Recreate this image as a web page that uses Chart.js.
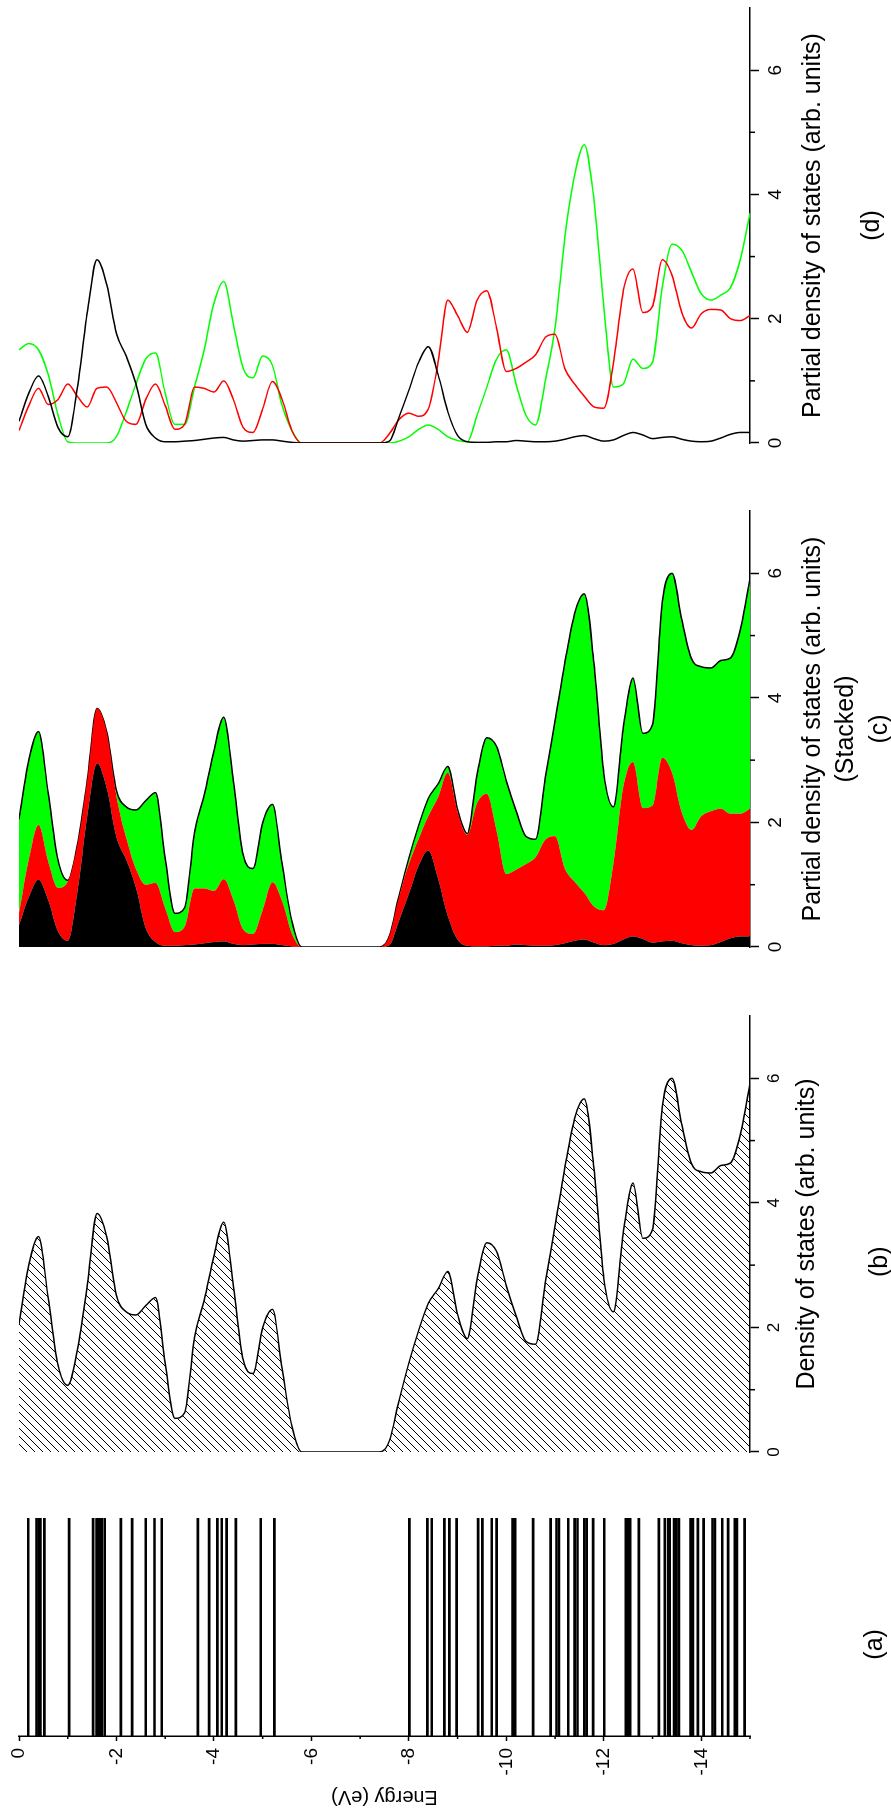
<!DOCTYPE html>
<html>
<head>
<meta charset="utf-8">
<script src="https://cdn.jsdelivr.net/npm/chart.js@4.4.1/dist/chart.umd.min.js"></script>
<style>
  html, body { margin: 0; padding: 0; background: #fff; width: 891px; height: 1811px; overflow: hidden; }
  /* the figure is laid out lying down (energy vertical) and turned a quarter turn */
  #fig { position: absolute; left: 0; top: 0; width: 1811px; height: 900px;
         transform-origin: 0 0; transform: translate(0, 1811px) rotate(-90deg); }
  #fig canvas { position: absolute; top: 0; }
</style>
</head>
<body>
<div id="fig">
  <canvas id="panelA" width="300" height="900" style="left:0px"></canvas>
  <canvas id="panelB" width="490" height="900" style="left:330px"></canvas>
  <canvas id="panelC" width="490" height="900" style="left:835px"></canvas>
  <canvas id="panelD" width="472" height="900" style="left:1339px"></canvas>
</div>
<script>
// energy levels (eV) of panel (a)
const levels = [-0.19, -0.36, -0.40, -0.44, -0.52, -1.03, -1.52, -1.59, -1.63, -1.67, -1.70, -1.76,
  -2.09, -2.32, -2.60, -2.78, -2.93, -3.67, -3.90, -4.07, -4.16, -4.26, -4.45, -4.96, -5.24,
  -8.01, -8.38, -8.47, -8.73, -8.83, -8.98, -9.42, -9.51, -9.70, -9.80, -10.13, -10.18, -10.55,
  -10.91, -11.03, -11.08, -11.27, -11.40, -11.46, -11.60, -11.65, -11.78, -12.01, -12.45, -12.48,
  -12.51, -12.54, -12.72, -13.13, -13.25, -13.32, -13.35, -13.44, -13.49, -13.54, -13.78, -13.83,
  -13.93, -14.05, -14.23, -14.28, -14.43, -14.55, -14.69, -14.73, -14.89];

// energy grid of the partial DOS curves
const energy = [0, -0.2, -0.4, -0.6, -0.8, -1, -1.2, -1.4, -1.6, -1.8, -2, -2.2, -2.4, -2.6, -2.8,
  -3, -3.2, -3.4, -3.6, -3.8, -4, -4.2, -4.4, -4.6, -4.8, -5, -5.2, -5.4, -5.6, -5.8, -6, -6.2,
  -6.4, -6.6, -6.8, -7, -7.2, -7.4, -7.6, -7.8, -8, -8.2, -8.4, -8.6, -8.8, -9, -9.2, -9.4, -9.6,
  -9.8, -10, -10.2, -10.4, -10.6, -10.8, -11, -11.2, -11.4, -11.6, -11.8, -12, -12.2, -12.4,
  -12.6, -12.8, -13, -13.2, -13.4, -13.6, -13.8, -14, -14.2, -14.4, -14.6, -14.8, -15];

const dosBlack = [0.35, 0.8, 1.08, 0.75, 0.25, 0.1, 0.9, 2.1, 2.95, 2.55,
  1.76, 1.4, 0.95, 0.3, 0.08, 0.02, 0.02, 0.03, 0.04, 0.06,
  0.08, 0.09, 0.05, 0.03, 0.04, 0.05, 0.05, 0.03, 0.01, 0,
  0, 0, 0, 0, 0, 0, 0, 0, 0.03, 0.42,
  0.85, 1.3, 1.55, 1.1, 0.5, 0.12, 0.02, 0.01, 0.01, 0.02,
  0.02, 0.04, 0.03, 0.02, 0.02, 0.03, 0.06, 0.1, 0.12, 0.07,
  0.03, 0.05, 0.12, 0.17, 0.13, 0.07, 0.09, 0.1, 0.06, 0.03,
  0.02, 0.03, 0.08, 0.14, 0.17, 0.17];

const dosRed = [0.2, 0.6, 0.88, 0.62, 0.7, 0.95, 0.75, 0.58, 0.88, 0.9,
  0.65, 0.35, 0.3, 0.7, 0.95, 0.6, 0.22, 0.3, 0.9, 0.88,
  0.82, 1.0, 0.7, 0.25, 0.17, 0.55, 0.99, 0.7, 0.2, 0,
  0, 0, 0, 0, 0, 0, 0, 0, 0.15, 0.38,
  0.48, 0.43, 0.55, 1.3, 2.3, 2.05, 1.78, 2.3, 2.45, 1.85,
  1.15, 1.2, 1.3, 1.42, 1.7, 1.75, 1.2, 0.95, 0.75, 0.58,
  0.56, 1.3, 2.45, 2.8, 2.1, 2.2, 2.95, 2.7, 2.1, 1.85,
  2.08, 2.15, 2.14, 2.0, 1.97, 2.05];

const dosGreen = [1.5, 1.6, 1.5, 1.1, 0.45, 0.02, 0, 0, 0, 0,
  0.1, 0.5, 0.95, 1.35, 1.45, 0.8, 0.3, 0.3, 0.9, 1.5,
  2.25, 2.6, 1.9, 1.2, 1.05, 1.4, 1.25, 0.6, 0.2, 0,
  0, 0, 0, 0, 0, 0, 0, 0, 0, 0.03,
  0.1, 0.22, 0.29, 0.22, 0.1, 0.04, 0.02, 0.45, 0.9, 1.35,
  1.5, 0.95, 0.45, 0.29, 1.0, 1.85, 3.3, 4.3, 4.8, 3.9,
  2.2, 0.9, 0.95, 1.35, 1.2, 1.3, 2.5, 3.2, 3.1, 2.75,
  2.4, 2.3, 2.38, 2.5, 2.95, 3.7];

const densityMinor = [1, 3, 5];
const energyMinor = [-1, -3, -5, -7, -9, -11, -13, -15];

Chart.defaults.font.family = '"Liberation Sans", Arial, sans-serif';
Chart.defaults.color = '#000';
Chart.defaults.animation = false;

const NB = '\u00a0';

// short ticks between the labelled ones
const minorTicks = {
  id: 'minorTicks',
  afterDraw(chart, args, opts) {
    const ctx = chart.ctx;
    (opts.list || []).forEach(m => {
      const s = chart.scales[m.axis];
      ctx.save();
      ctx.strokeStyle = '#000';
      ctx.lineWidth = 1.5;
      m.values.forEach(v => {
        const p = s.getPixelForValue(v);
        ctx.beginPath();
        if (s.isHorizontal()) { ctx.moveTo(p, s.top); ctx.lineTo(p, s.top + m.len); }
        else { ctx.moveTo(s.right, p); ctx.lineTo(s.right - m.len, p); }
        ctx.stroke();
      });
      ctx.restore();
    });
  }
};

function hatch() {
  const c = document.createElement('canvas');
  const p = 8;
  c.width = p; c.height = p;
  const g = c.getContext('2d');
  g.strokeStyle = '#000';
  g.lineWidth = 1;
  g.beginPath();
  g.moveTo(0, p); g.lineTo(p, 0);
  g.moveTo(-1, 1); g.lineTo(1, -1);
  g.moveTo(p - 1, p + 1); g.lineTo(p + 1, p - 1);
  g.stroke();
  return g.createPattern(c, 'repeat');
}

const pts = arr => energy.map((e, i) => ({ x: arr[i], y: e }));

const energyHidden = { type: 'linear', min: -15, max: 0, display: false };

function densityAxis(title, lineHeight, padBottom, tickSize, stacked) {
  return {
    type: 'linear', min: 0, max: 7, stacked: stacked,
    afterFit: s => { s.height = 150; },
    border: { display: true, color: '#000', width: 1.5 },
    grid: { drawOnChartArea: false, drawTicks: true, tickLength: 9, tickColor: '#000', tickWidth: 1.5 },
    ticks: { stepSize: 2, includeBounds: false, padding: 5, maxRotation: 0, font: { size: tickSize } },
    title: { display: true, text: title, font: { size: 25, lineHeight: lineHeight }, padding: { top: 0, bottom: padBottom } }
  };
}

const lineStyle = { pointRadius: 0, cubicInterpolationMode: 'monotone', indexAxis: 'y' };

// (a) energy levels
new Chart(document.getElementById('panelA'), {
  type: 'bar',
  data: {
    datasets: [{
      data: levels.map(e => ({ y: e, x: [0, 1] })),
      backgroundColor: '#000',
      borderWidth: 0,
      barThickness: 2
    }]
  },
  options: {
    responsive: false,
    indexAxis: 'y',
    layout: { padding: { top: 19, right: 7, left: 0, bottom: 0 } },
    plugins: { legend: { display: false }, tooltip: { enabled: false },
      minorTicks: { list: [{ axis: 'y', values: energyMinor, len: 3 }] } },
    scales: {
      x: {
        type: 'linear', min: 0, max: 1,
        afterFit: s => { s.height = 150; },
        border: { display: false }, grid: { display: false }, ticks: { display: false },
        title: { display: true, text: '(a)' + NB.repeat(5), font: { size: 25 }, padding: { top: 0, bottom: 10 } }
      },
      y: {
        type: 'linear', min: -15, max: 0, offset: false,
        afterFit: s => { s.width = 75; },
        border: { display: true, color: '#000', width: 1.5 },
        grid: { offset: false, drawOnChartArea: false, drawTicks: true, tickLength: 5, tickColor: '#000', tickWidth: 1.5 },
        ticks: { stepSize: 2, includeBounds: false, padding: 7, font: { size: 19 } },
        title: { display: true, text: 'Energy (eV)', font: { size: 20 }, padding: { top: 2, bottom: 0 } }
      }
    }
  },
  plugins: [minorTicks]
});

// (b) total density of states, hatched
new Chart(document.getElementById('panelB'), {
  type: 'line',
  data: {
    datasets: [
      { ...lineStyle, data: pts(dosBlack), borderColor: 'rgba(0,0,0,0)', fill: false },
      { ...lineStyle, data: pts(dosRed), borderColor: 'rgba(0,0,0,0)', fill: false },
      { ...lineStyle, data: pts(dosGreen), borderColor: '#000', borderWidth: 1.5, fill: 'origin', backgroundColor: hatch() }
    ]
  },
  options: {
    responsive: false,
    indexAxis: 'y',
    layout: { padding: { top: 19, left: 29, right: 25, bottom: 0 } },
    plugins: { legend: { display: false }, tooltip: { enabled: false },
      minorTicks: { list: [{ axis: 'x', values: densityMinor, len: 5 }] } },
    scales: {
      x: densityAxis(['Density of states (arb. units)', '', '(b)' + NB.repeat(8)], 1.46, 1.75, 17, true),
      y: energyHidden
    }
  },
  plugins: [minorTicks]
});

// (c) stacked partial DOS
new Chart(document.getElementById('panelC'), {
  type: 'line',
  data: {
    datasets: [
      { ...lineStyle, data: pts(dosBlack), borderColor: 'rgba(0,0,0,0)', fill: 'origin', backgroundColor: '#000000' },
      { ...lineStyle, data: pts(dosRed), borderColor: 'rgba(0,0,0,0)', fill: '-1', backgroundColor: '#ff0000' },
      { ...lineStyle, data: pts(dosGreen), borderColor: '#000', borderWidth: 1.5, fill: '-1', backgroundColor: '#00ff00' }
    ]
  },
  options: {
    responsive: false,
    indexAxis: 'y',
    layout: { padding: { top: 19, left: 29, right: 25, bottom: 0 } },
    plugins: { legend: { display: false }, tooltip: { enabled: false },
      minorTicks: { list: [{ axis: 'x', values: densityMinor, len: 5 }] } },
    scales: {
      x: densityAxis(['Partial density of states (arb. units)', '(Stacked)', '(c)'], 1.34, 3.25, 19, true),
      y: energyHidden
    }
  },
  plugins: [minorTicks]
});

// (d) partial DOS curves
new Chart(document.getElementById('panelD'), {
  type: 'line',
  data: {
    datasets: [
      { ...lineStyle, data: pts(dosBlack), borderColor: '#000000', borderWidth: 1.5, fill: false },
      { ...lineStyle, data: pts(dosRed), borderColor: '#ff0000', borderWidth: 1.5, fill: false },
      { ...lineStyle, data: pts(dosGreen), borderColor: '#00ff00', borderWidth: 1.5, fill: false }
    ]
  },
  options: {
    responsive: false,
    indexAxis: 'y',
    layout: { padding: { top: 19, left: 29, right: 8, bottom: 0 } },
    plugins: { legend: { display: false }, tooltip: { enabled: false },
      minorTicks: { list: [{ axis: 'x', values: densityMinor, len: 5 }] } },
    scales: {
      x: densityAxis(['Partial density of states (arb. units)', '', '(d)'], 1.18, 13.25, 19, false),
      y: energyHidden
    }
  },
  plugins: [minorTicks]
});
</script>
</body>
</html>
